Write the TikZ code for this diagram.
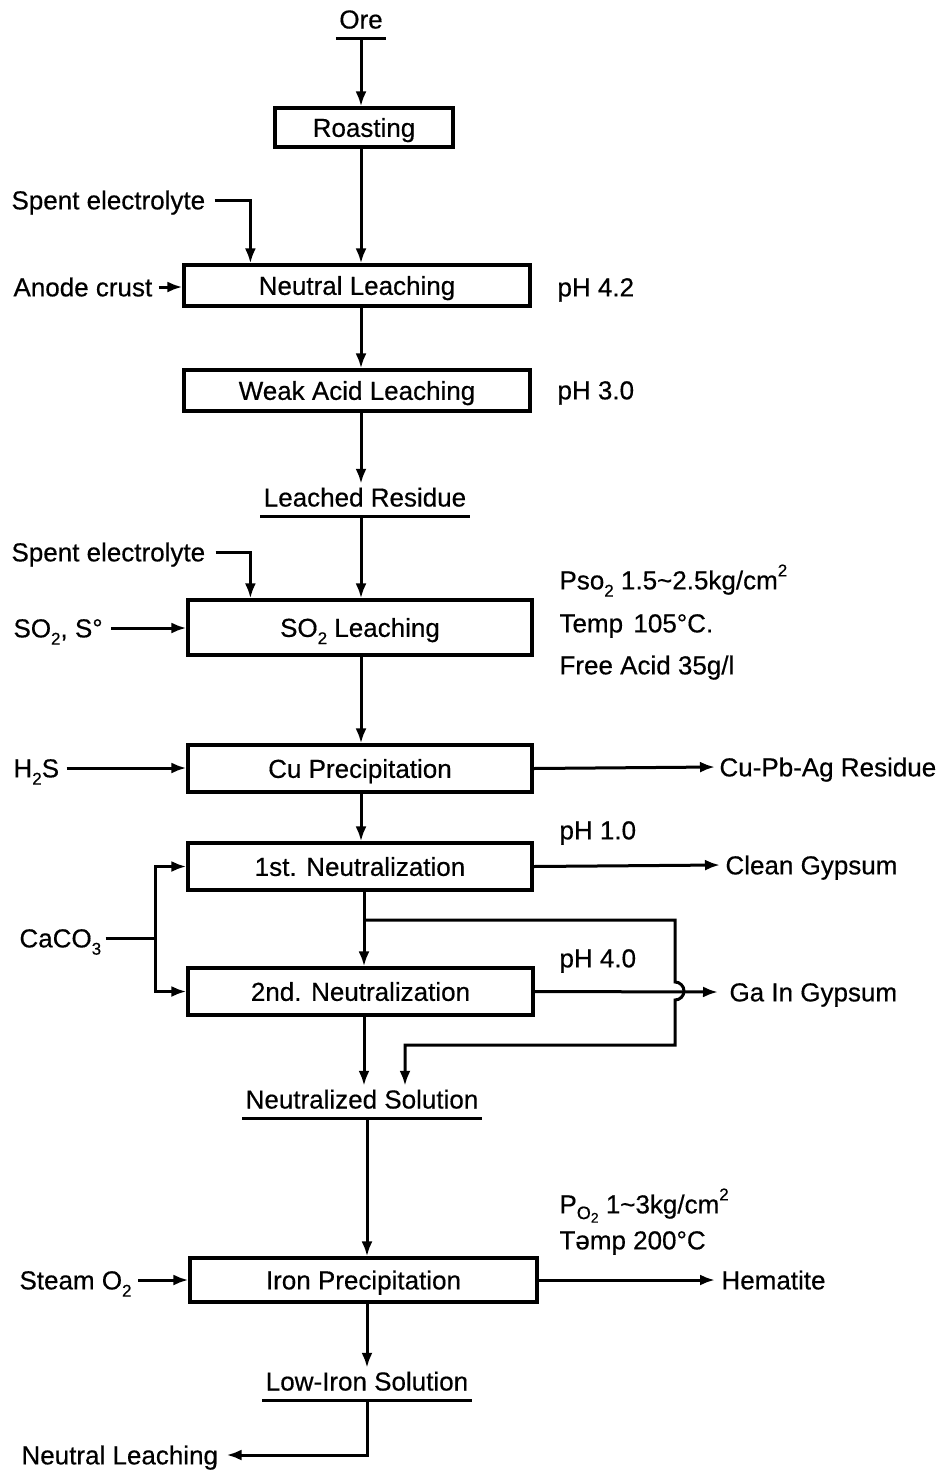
\documentclass[tikz,border=0pt]{standalone}
\usepackage{fontspec}
\setmainfont{Liberation Sans}[FakeBold=0.45]
\usetikzlibrary{arrows.meta}
\newcommand\dsub[1]{\raisebox{-0.28em}{\fontsize{17}{17}\selectfont #1}}
\newcommand\dsup[1]{\raisebox{0.5em}{\fontsize{17}{17}\selectfont #1}}
\newcommand\osub{\raisebox{-0.22em}{\fontsize{18}{18}\selectfont O\raisebox{-0.2em}{\fontsize{14}{14}\selectfont 2}}}
\begin{document}
\begin{tikzpicture}[x=1pt,y=-1pt,
  font=\fontsize{26}{30}\selectfont,
  line width=3pt,
  box/.style={draw, line width=3.2pt, inner sep=0pt, text height=18.7pt, text depth=0pt},
  lbl/.style={inner sep=0pt, anchor=west, text height=18.7pt, text depth=0pt},
  ul/.style={inner xsep=2pt, inner ysep=2.5pt, text height=18.7pt, text depth=5.5pt, anchor=south},
  arr/.style={-{Latex[length=15pt,width=11pt]}},
]
\useasboundingbox (0,0) rectangle (938,1473);

% main column coordinates
\coordinate (c1) at (361,0);
\coordinate (c2) at (364,0);
\coordinate (c3) at (367,0);

% process boxes
\node[box, minimum width=178, minimum height=39] (roast) at (364,127.5) {Roasting};
\node[box, minimum width=346, minimum height=41] (nl) at (357,285.5) {Neutral Leaching};
\node[box, minimum width=346, minimum height=41] (wal) at (357,390.5) {Weak Acid Leaching};
\node[box, minimum width=344, minimum height=55] (so2) at (360,627.5) {SO\dsub{2} Leaching};
\node[box, minimum width=344, minimum height=47] (cu) at (360,768.5) {Cu Precipitation};
\node[box, minimum width=344, minimum height=47] (n1) at (360,866.5) {1st. Neutralization};
\node[box, minimum width=345, minimum height=47] (n2) at (360.5,991.5) {2nd. Neutralization};
\node[box, minimum width=347, minimum height=44] (fe) at (363.5,1280) {Iron Precipitation};

% underlined stream names
\node[ul] (ore) at (361,38) {Ore};
\node[ul] (lr) at (365,516) {Leached Residue};
\node[ul] (ns) at (362,1118) {Neutralized Solution};
\node[ul] (lis) at (367,1400) {Low-Iron Solution};
\foreach \n in {ore,lr,ns,lis}{\draw (\n.south west) -- (\n.south east);}

% side inputs / outputs
\node[lbl] (se1) at (10,200) {Spent electrolyte};
\node[lbl] (ac) at (12,287) {Anode crust};
\node[lbl] (se2) at (10,552) {Spent electrolyte};
\node[lbl] (sos) at (12,628) {SO\dsub{2}, S°};
\node[lbl] (hs) at (12,768) {H\dsub{2}S};
\node[lbl] (cpa) at (718,767) {Cu-Pb-Ag Residue};
\node[lbl] (cg) at (724,865) {Clean Gypsum};
\node[lbl] (caco) at (18,938) {CaCO\dsub{3}};
\node[lbl] (ga) at (728,992) {Ga In Gypsum};
\node[lbl] (st) at (18,1280) {Steam O\dsub{2}};
\node[lbl] (hem) at (720,1280) {Hematite};
\node[lbl] (nlb) at (20,1455) {Neutral Leaching};

% conditions
\node[lbl] (ph42) at (556,287) {pH 4.2};
\node[lbl] (ph30) at (556,390) {pH 3.0};
\node[lbl] (pso) at (558,580) {Pso\dsub{2} 1.5\textasciitilde 2.5kg/cm\dsup{2}};
\node[lbl] (tmp1) at (558,623) {Temp\hspace{0.4em}105°C.};
\node[lbl] (fa) at (558,665) {Free Acid 35g/l};
\node[lbl] (ph10) at (558,830) {pH 1.0};
\node[lbl] (ph40) at (558,958) {pH 4.0};
\node[lbl] (po) at (558,1204) {P\osub\ 1\textasciitilde 3kg/cm\dsup{2}};
\node[lbl] (tmp2) at (558,1240) {Təmp 200°C};

% main flow
\draw[arr] (c1 |- ore.south) -- (c1 |- roast.north);
\draw[arr] (c1 |- roast.south) -- (c1 |- nl.north);
\draw[arr] (c1 |- nl.south) -- (c1 |- wal.north);
\draw[arr] (c1 |- wal.south) -- (c1 |- lr.north);
\draw[arr] (c1 |- lr.south) -- (c1 |- so2.north);
\draw[arr] (c1 |- so2.south) -- (c1 |- cu.north);
\draw[arr] (c1 |- cu.south) -- (c1 |- n1.north);
\draw[arr] (c2 |- n1.south) -- (c2 |- n2.north);
\draw[arr] (c2 |- n2.south) -- (c2 |- ns.north);
\draw[arr] (c3 |- ns.south) -- (c3 |- fe.north);
\draw[arr] (c3 |- fe.south) -- (c3 |- lis.north);

% inputs
\draw[arr] ([xshift=8pt]se1.east) -| ([xshift=68pt]nl.north west);
\draw[arr] ([xshift=5pt]ac.east) -- (ac.east -| nl.west);
\draw[arr] ([xshift=9pt]se2.east) -| ([xshift=64pt]so2.north west);
\draw[arr] ([xshift=7pt]sos.east) -- (sos.east -| so2.west);
\draw[arr] ([xshift=6pt]hs.east) -- (hs.east -| cu.west);
\draw[arr] ([xshift=5pt]st.east) -- (st.east -| fe.west);

% CaCO3 split
\coordinate (cj) at (155,938);
\draw ([xshift=3pt]caco.east) -- (cj);
\draw[arr] (cj) |- (n1.west);
\draw[arr] (cj) |- (n2.west);

% outputs
\draw[arr] (cu.east) -- ([xshift=-3pt]cpa.west);
\draw[arr] (n1.east) -- ([xshift=-4pt]cg.west);
\draw[arr] (n2.east) -- ([xshift=-10pt]ga.west);
\draw[arr] (fe.east) -- ([xshift=-5pt]hem.west);

% bypass from 1st neutralization with line jump
\coordinate (b1) at (364,920);
\coordinate (b2) at (675,920);
\coordinate (b3) at (675,1045);
\coordinate (b4) at (405,1045);
\draw[arr] (b1) -- (b2) -- (675,982) arc[start angle=-90, end angle=90, radius=9] -- (b3) -- (b4) -- (b4 |- ns.north);

% recycle
\draw[arr] (lis.south) |- ([xshift=7pt]nlb.east);
\end{tikzpicture}
\end{document}
